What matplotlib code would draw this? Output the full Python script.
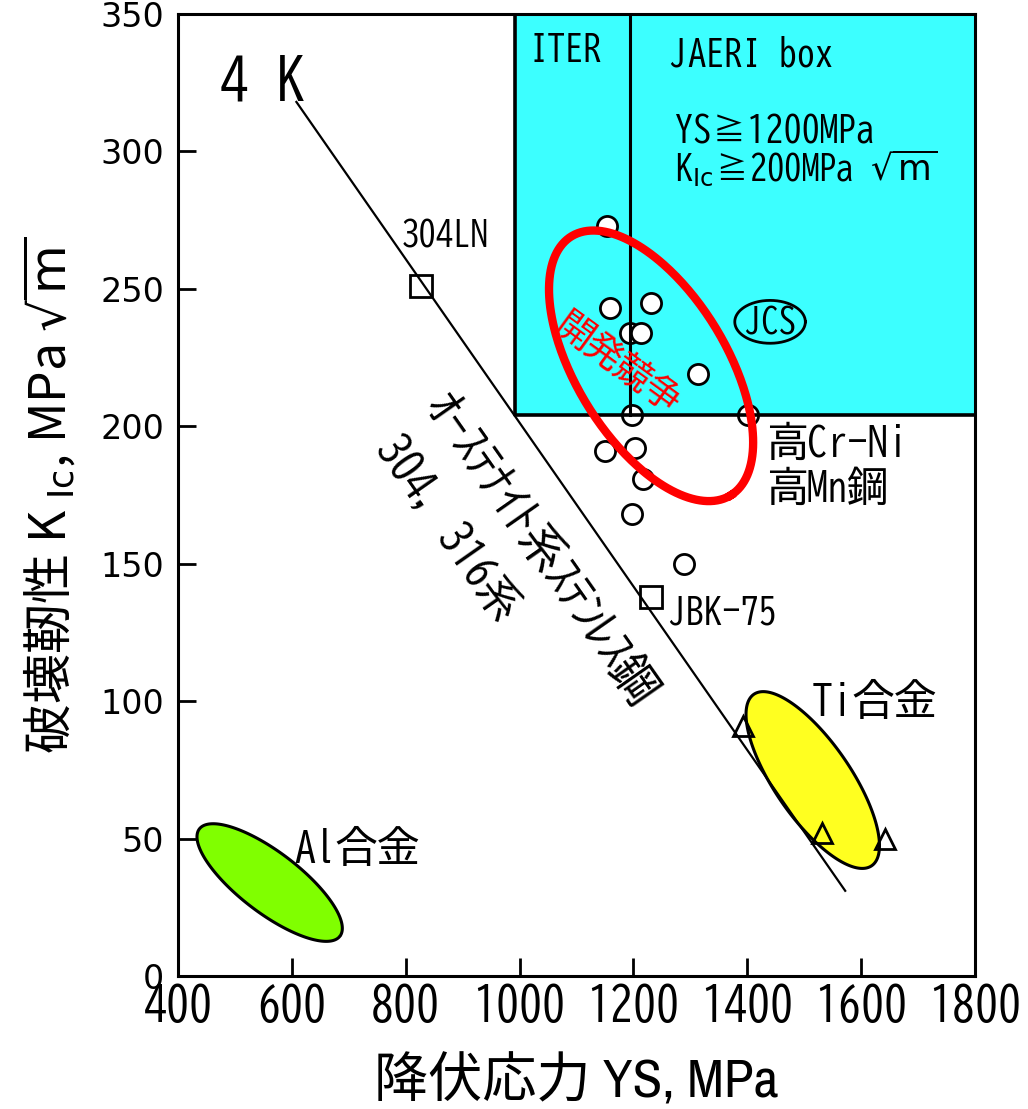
import matplotlib
matplotlib.use("Agg")
import matplotlib.pyplot as plt
import numpy as np

# fonts: half-width gothic for labels inside the plot, CJK fallback
GOTHIC = ['BIZ UDGothic', 'Noto Sans CJK JP', 'DejaVu Sans']
NARROW = ['Liberation Sans Narrow', 'Archivo Narrow', 'Noto Sans CJK JP', 'DejaVu Sans']
WIDE = ['DejaVu Sans', 'Noto Sans CJK JP']
plt.rcParams['font.family'] = GOTHIC

# axis ticks
x_ticks = [400, 600, 800, 1000, 1200, 1400, 1600, 1800]
y_ticks = [0, 50, 100, 150, 200, 250, 300, 350]

# high strength steels (open circles): yield stress, K_Ic
steel_ys = [1153, 1158, 1230, 1194, 1214, 1313, 1197, 1402, 1150, 1203, 1217, 1197, 1288]
steel_kic = [273, 243, 245, 234, 234, 219, 204, 204, 191, 192, 181, 168, 150]

# 304LN and JBK-75 (squares)
sq_ys = [827, 1231]
sq_kic = [251, 138]

# Ti alloys (triangles)
ti_ys = [1392, 1531, 1642]
ti_kic = [91, 52, 50]

# 4 K trend line of austenitic stainless steels
line_ys = [608, 1572]
line_kic = [318, 31]

# JAERI target box and ITER limit
box_ys = [992, 1800]
box_kic = [204, 350]
iter_ys = 1194

# ellipses: centre, semi-axis vector 1, semi-axis vector 2 (data units)
al_c, al_a, al_b = (561, 34), (123.5, -19.5), (32.3, 8.8)
ti_c, ti_a, ti_b = (1515, 71.3), (103.4, -31.2), (55.2, 7.8)
dev_c, dev_a, dev_b = (1231, 222), (140, -47.1), (112, 14.3)
jcs_c, jcs_a, jcs_b = (1440, 238), (62, 0), (0, 7.8)


def ellipse(c, a, b, n=300):
    t = np.linspace(0, 2 * np.pi, n)
    return (c[0] + a[0] * np.cos(t) + b[0] * np.sin(t),
            c[1] + a[1] * np.cos(t) + b[1] * np.sin(t))


fig = plt.figure(figsize=(10.28, 11.09), dpi=100)
ax = fig.add_axes([178 / 1028, 133 / 1109, 797 / 1028, 962 / 1109])
ax.set_xlim(400, 1800)
ax.set_ylim(0, 350)

# cyan box
ax.fill_between(box_ys, box_kic[0], box_kic[1], color='#3cffff', lw=0, zorder=1)

# circles under the box outline
ax.plot(steel_ys, steel_kic, 'o', ms=14.5, mfc='white', mec='black', mew=2, zorder=2)

ax.plot([box_ys[0], box_ys[0], box_ys[1]], [box_kic[1], box_kic[0], box_kic[0]],
        color='black', lw=2.6, zorder=3)
ax.plot([iter_ys, iter_ys], box_kic, color='black', lw=2.2, zorder=3)

# 4 K line
ax.plot(line_ys, line_kic, color='black', lw=1.6, zorder=3)

# alloy ellipses
x, y = ellipse(al_c, al_a, al_b)
ax.fill(x, y, facecolor='#80ff00', edgecolor='black', lw=2.2, zorder=2)
x, y = ellipse(ti_c, ti_a, ti_b)
ax.fill(x, y, facecolor='#ffff20', edgecolor='black', lw=2.2, zorder=2)
x, y = ellipse(jcs_c, jcs_a, jcs_b)
ax.plot(x, y, color='black', lw=2, zorder=3)

ax.plot(sq_ys, sq_kic, 's', ms=16, mfc='none', mec='black', mew=2, zorder=4)
ax.plot(ti_ys, ti_kic, '^', ms=15, mfc='none', mec='black', mew=2, zorder=4)

# development race ellipse
x, y = ellipse(dev_c, dev_a, dev_b)
ax.plot(x, y, color='#ff0000', lw=6, zorder=5)

# labels in the plot
ax.text(549, 326, '4 K', fontsize=41, ha='center', va='center')
ax.text(1081, 337.5, 'ITER', fontsize=26, ha='center', va='center', zorder=6)
ax.text(1264, 336, 'JAERI box', fontsize=26, ha='left', va='center', zorder=6)
ax.text(1273, 308, 'YS≧1200MPa', fontsize=26, ha='left', va='center', zorder=6)
ax.text(1273, 294, r'K$_{\mathrm{Ic}}$≧200MPa $\sqrt{\mathrm{m}}$', fontsize=25,
        ha='left', va='center', zorder=6)
ax.text(869, 270, '304LN', fontsize=25, ha='center', va='center')
ax.text(1440, 238.3, 'JCS', fontsize=25, ha='center', va='center', zorder=6)
ax.text(1174, 223, '開発競争', fontsize=26, color='#ff0000', rotation=-36,
        rotation_mode='anchor', ha='center', va='center', zorder=6)
ax.text(1434, 194.3, '高Cr-Ni', fontsize=29, ha='left', va='center')
ax.text(1434, 178, '高Mn鋼', fontsize=29, ha='left', va='center')
ax.text(1261, 133, 'JBK-75', fontsize=26, ha='left', va='center')
ax.text(1513, 100.4, 'Ti合金', fontsize=30, ha='left', va='center')
ax.text(605, 47, 'Al合金', fontsize=30, ha='left', va='center')
ax.text(1041, 155.7, 'ｵｰｽﾃﾅｲﾄ系ｽﾃﾝﾚｽ鋼', fontsize=33, rotation=-55,
        rotation_mode='anchor', ha='center', va='center')
ax.text(878, 163.5, '304, 316系', fontsize=31, rotation=-55,
        rotation_mode='anchor', ha='center', va='center')

# axes styling
for s in ax.spines.values():
    s.set_linewidth(2.2)
ax.tick_params(direction='in', length=13, width=2, top=False, right=False)
ax.set_xticks(x_ticks)
ax.set_xticklabels([str(v) for v in x_ticks], fontsize=33, family=GOTHIC)
ax.set_yticks(y_ticks)
ax.set_yticklabels([str(v) for v in y_ticks], fontsize=24, family=WIDE)
ax.tick_params(axis='x', pad=4)
ax.tick_params(axis='y', pad=10)

ax.set_xlabel('降伏応力 YS, MPa', fontsize=39, family=NARROW, labelpad=20)
ax.set_ylabel(r'破壊靭性 K $_{\mathrm{Ic}}$, MPa $\sqrt{\mathrm{m}}$', fontsize=36,
              family=['Noto Sans CJK JP', 'DejaVu Sans'], labelpad=16)

fig.savefig('out.png', dpi=100)
